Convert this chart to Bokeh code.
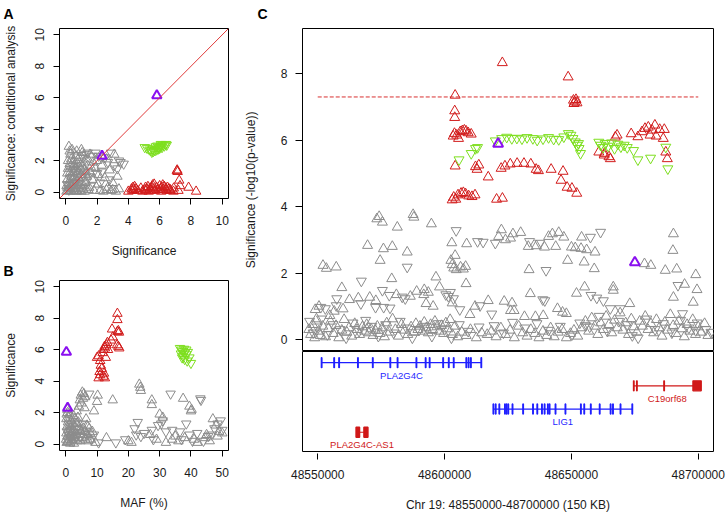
from bokeh.plotting import figure
from bokeh.layouts import row, column
from bokeh.models import Range1d, FixedTicker, BasicTickFormatter, Slope, ColumnDataSource
from bokeh.core.properties import value
from bokeh.embed import file_html
from bokeh.resources import INLINE

# ---------------- data ----------------
a_ticks = [0, 2, 4, 6, 8, 10]
b_xticks = [0, 10, 20, 30, 40, 50]
c_yticks = [0, 2, 4, 6, 8]
c_xticks = [48550000, 48600000, 48650000, 48700000]
region = [48550000, 48700000]
threshold = 7.3

# Panel A: (significance, conditional significance)
a_gray_up = [(0.05,0.05),(0.1,0.3),(0.15,0.1),(0.2,0.6),(0.2,2.9),(0.25,2.6),(0.3,2.4),(0.3,0.2),(0.35,1.0),(0.4,0.4),
             (0.45,1.6),(0.5,0.1),(0.5,2.0),(0.55,0.7),(0.6,1.3),(0.65,2.3),(0.7,0.3),(0.75,1.8),(0.8,0.9),(0.85,2.2),
             (0.9,0.5),(0.95,1.5),(1.0,1.1),(1.05,2.5),(1.1,0.2),(1.15,1.9),(1.2,1.4),(1.25,0.6),(1.3,2.1),(1.35,1.0),
             (1.4,1.7),(1.5,0.3),(1.55,2.4),(1.6,1.2),(1.7,0.8),(1.75,1.9),(1.8,0.1),(1.9,1.5),(2.0,2.0),(2.05,0.5),
             (2.1,1.1),(2.2,0.1),(2.3,1.7),(2.4,0.05),(2.5,0.9),(2.6,2.1),(2.7,0.3),(2.8,1.4),(2.9,0.1),(3.0,0.6),
             (3.1,2.4),(3.2,0.05),(3.3,1.0),(3.4,0.2),(0.1,1.2),(0.15,2.0),(0.3,1.6),(0.6,0.05),(0.9,0.1),(1.2,0.05),
             (1.45,0.15),(2.6,0.15),(3.0,0.15),(1.0,2.7),(0.4,2.7),(0.7,2.6),(0.05,0.4),(0.1,0.8),(0.2,0.3),(0.25,1.2),
             (0.35,0.5),(0.4,0.8),(0.45,0.2),(0.5,0.9),(0.55,0.4),(0.6,1.0),(0.65,0.2),(0.7,0.7),(0.75,1.2),(0.8,0.4),
             (0.85,0.9),(0.95,0.6),(1.05,0.9),(1.15,0.4),(1.25,1.1),(0.3,0.05),(0.7,0.05),(1.0,0.05),
             (0.15,1.5),(0.25,1.8),(0.35,2.1),(0.45,1.3),(0.55,1.7),(0.65,1.5),(0.8,1.4),(1.1,1.6),(1.3,1.3),(1.6,1.6)]
a_gray_dn = [(0.1,0.5),(0.3,0.9),(0.5,1.4),(0.7,2.0),(0.9,1.7),(1.1,2.2),(1.3,2.4),(1.5,1.0),(1.7,2.3),(1.9,2.5),
             (2.1,2.3),(2.3,1.3),(2.5,2.2),(2.7,1.9),(2.9,2.5),(3.1,1.7),(3.3,1.5),(3.5,1.9),(3.7,1.8),(2.8,0.8),
             (2.2,0.6),(1.6,0.4),(1.0,0.3),(0.6,0.6),(3.4,2.0),(0.2,0.15),(2.0,1.2),(1.4,2.5)]
a_red_up = [(4.0,0.05),(4.2,0.2),(4.25,0.1),(4.3,0.3),(4.35,0.15),(4.4,0.35),(4.5,0.2),(4.6,0.1),(4.8,0.25),(4.9,0.05),
            (5.06,0.15),(5.1,0.3),(5.12,0.1),(5.2,0.2),(5.25,0.35),(5.3,0.05),(5.4,0.25),(5.45,0.12),(5.5,0.3),(5.55,0.45),
            (5.6,0.2),(5.65,0.5),(5.7,0.1),(5.8,0.3),(5.9,0.15),(6.0,0.4),(6.05,0.2),(6.1,0.05),(6.15,0.3),(6.2,0.45),
            (6.25,0.15),(6.3,0.35),(6.4,0.25),(6.45,0.1),(6.5,0.3),(6.6,0.2),(6.7,0.1),(6.9,0.25),(7.1,1.35),(7.15,1.3),
            (7.12,1.4),(7.25,0.75),(7.3,0.4),(7.85,0.3),(8.33,0.05),(7.2,0.1),(6.68,0.15),(6.88,0.05)]
a_green_dn = [(5.05,2.85),(5.2,2.8),(5.35,2.7),(5.45,2.65),(5.5,2.55),(5.6,2.6),(5.7,2.65),(5.8,2.7),(5.9,2.75),(5.95,2.85),
              (6.0,2.8),(6.05,2.9),(6.1,2.95),(6.15,2.85),(6.2,3.0),(6.3,2.95),(6.4,3.05),(6.45,3.0),(5.75,2.9),(5.85,2.95),
              (5.55,2.75),(6.08,3.05)]
a_purple_up = [(5.82,6.15),(2.32,2.3)]

# Panel B: (MAF %, significance)
b_gray_up = [(0.3,0.1),(0.5,0.5),(0.8,0.9),(1.0,0.2),(1.2,1.2),(1.5,0.6),(1.8,1.5),(2.0,0.3),(2.2,0.9),(2.5,1.8),
             (2.8,0.4),(3.0,1.1),(3.2,0.7),(3.5,2.1),(3.8,0.2),(4.0,1.4),(4.2,2.4),(4.5,2.8),(4.8,3.1),(5.0,2.6),
             (5.3,3.3),(5.5,2.9),(5.8,3.2),(6.0,2.3),(6.2,3.0),(6.5,1.6),(7.0,0.5),(7.5,1.0),(8.0,0.3),(9.0,2.1),
             (10.0,2.7),(10.2,3.1),(8.5,0.8),(9.5,0.1),(0.2,1.6),(0.6,2.0),(1.0,1.7),(1.4,0.05),(2.6,0.05),(3.6,0.6),
             (4.4,0.9),(5.2,0.4),(6.0,0.8),(6.8,1.2),(13.0,0.4),(15.0,2.8),(20.0,0.2),(21.0,0.1),(23.5,3.8),(23.8,3.6),
             (24.0,3.4),(27.5,2.8),(27.5,2.5),(27.0,0.6),(29.0,0.3),(30.0,1.9),(31.0,1.7),(32.0,0.1),(34.0,0.3),(35.0,0.5),
             (36.0,0.2),(37.5,2.9),(38.0,0.4),(39.5,2.4),(40.0,2.1),(40.2,2.2),(41.0,0.3),(42.0,0.1),(44.5,0.4),(45.0,0.6),
             (46.0,0.2),(47.0,1.6),(48.0,1.2),(49.0,0.8),(50.0,0.7),(48.5,0.5),
             (0.1,0.3),(0.2,0.7),(0.4,1.1),(0.6,0.15),(0.7,1.4),(0.9,0.45),(1.1,0.8),(1.3,1.9),(1.5,1.0),(1.7,0.25),
             (1.9,0.7),(2.1,1.3),(2.3,0.5),(2.7,0.8),(2.9,1.6),(3.1,0.3),(3.3,1.3),(3.7,0.9),(3.9,1.7),(4.1,0.4),
             (4.3,1.1),(4.7,0.2),(4.9,0.8),(5.4,0.6),(5.7,1.0),(6.3,0.3),(6.7,0.6),(7.2,0.2),(7.8,0.7),(0.3,1.9),(0.5,2.2)]
b_gray_dn = [(0.4,0.8),(0.9,1.3),(1.6,0.4),(2.4,0.2),(3.4,1.0),(4.6,0.5),(5.6,1.3),(6.6,0.8),(7.5,3.2),(8.2,0.3),
             (9.0,0.6),(10.5,0.1),(16.0,0.1),(19.0,0.3),(22.0,1.0),(22.5,0.6),(23.0,1.4),(24.0,0.5),(25.0,0.7),(27.5,0.9),
             (28.0,0.3),(29.5,1.2),(30.5,1.3),(31.0,1.5),(32.0,0.8),(33.5,3.2),(34.0,0.9),(36.5,0.8),(37.0,0.3),(38.5,1.3),
             (39.5,0.6),(40.5,0.2),(42.0,0.7),(43.0,2.9),(43.2,2.8),(44.0,0.2),(45.5,0.5),(46.5,0.6),(47.5,1.0),(48.5,1.3),
             (49.5,1.5),(50.0,0.9)]
b_red_up = [(16.5,8.3),(16.5,7.9),(14.8,7.3),(16.8,7.2),(16.5,7.15),(17.0,7.1),(15.0,6.8),(14.5,6.6),(13.3,6.45),(13.0,6.3),
            (12.5,6.1),(12.0,6.0),(16.4,6.3),(16.8,6.2),(17.1,6.1),(12.8,5.5),(10.0,5.5),(10.5,5.6),(11.0,5.3),(11.2,5.0),
            (10.8,4.6),(11.5,4.8),(11.0,4.4),(10.5,4.2),(12.0,4.3),(12.5,4.2),(12.2,4.5),(11.8,5.8),(12.4,6.2),(13.5,6.0)]
b_green_dn = [(36.5,6.1),(37.0,6.0),(37.5,5.9),(38.0,5.8),(38.5,5.7),(39.0,5.85),(39.5,5.5),(38.0,5.4),(37.5,5.6),(40.0,5.15),
              (36.8,5.75),(37.8,6.05),(38.5,6.0),(37.2,5.5),(38.8,5.3)]
b_purple_up = [(0.2,5.85),(0.6,2.3)]

# Panel C: (position, -log10 p)
c_red_up = [(48622770,8.33),(48648700,7.90),(48604170,7.35),(48604000,6.88),(48604000,6.68),
            (48603400,6.12),(48603900,6.20),(48604800,6.15),(48605500,6.05),(48606200,6.25),(48607000,6.28),
            (48607800,6.30),(48608500,6.27),(48609300,6.22),(48610500,6.18),(48604170,5.22),
            (48612200,5.20),(48612800,5.12),(48613500,5.25),(48617200,4.89),
            (48622300,5.15),(48623800,5.22),(48625900,5.28),(48628600,5.30),(48631300,5.30),(48634000,5.28),
            (48636100,5.12),(48637000,5.08),(48642000,5.12),(48646700,5.06),
            (48645900,4.79),(48648300,4.58),(48650200,4.55),(48652100,4.40),
            (48603000,4.20),(48603600,4.28),(48604400,4.22),(48605300,4.35),(48606500,4.40),(48607400,4.42),
            (48608300,4.38),(48609500,4.32),(48610800,4.30),(48612000,4.35),(48620500,4.22),(48622800,4.25),
            (48650800,7.20),(48651300,7.15),(48651800,7.22),(48652200,7.12),(48651000,7.10),
            (48660800,5.64),(48662900,5.55),(48664800,5.50),(48665350,5.44),(48663000,5.60),
            (48667300,6.09),(48668000,6.15),(48673550,6.19),(48676200,6.10),(48677800,6.25),(48679000,6.35),
            (48680300,6.39),(48681000,6.15),(48681800,6.30),(48682900,6.45),(48683400,6.12),(48684800,6.32),
            (48686600,6.32),(48686200,6.05),(48687200,5.64),(48687800,5.44)]
c_green_dn = [(48605700,5.41),(48610500,5.60),(48612200,5.75),(48613000,5.78),
              (48620000,5.98),(48622500,6.05),(48624500,6.09),(48626500,6.05),(48628500,6.06),(48630500,6.04),
              (48632500,6.08),(48634800,6.05),(48636500,6.00),(48638800,6.04),(48641000,6.08),(48643000,6.03),
              (48645000,6.02),(48647000,6.10),(48648800,6.20),(48649800,6.15),(48650600,6.05),(48651500,5.95),
              (48652200,5.85),(48653000,5.75),(48653600,5.60),(48652800,5.90),
              (48660800,5.94),(48661500,5.85),(48662500,5.78),(48663300,5.90),(48664500,5.82),(48665800,5.92),
              (48667000,5.75),(48668300,5.88),(48669500,5.80),(48670800,5.85),(48672000,5.78),(48674500,5.69),
              (48676200,5.41),(48681200,5.46),(48687200,5.79),(48688000,5.14)]
c_purple_up = [(48621100,5.89),(48675000,2.32)]
c_gray_up = [(48552070,2.23),(48553400,2.14),(48557300,2.18),(48559500,1.56),(48569650,2.83),(48573300,3.63),
             (48574220,3.70),(48575500,3.53),(48575900,2.73),(48574600,2.38),(48579400,2.80),(48579170,1.83),
             (48581370,3.38),(48585270,2.63),(48587600,3.76),(48587900,3.68),(48594800,3.48),(48596600,1.88),
             (48602850,2.91),(48608700,2.88),(48604170,2.53),(48602500,2.38),(48603000,2.25),(48603600,2.15),
             (48604600,2.10),(48606300,2.18),(48607400,2.12),(48608300,2.20),(48622400,3.30),(48621300,3.10),
             (48626000,3.05),(48624000,3.00),(48608470,1.68),(48617200,1.17),(48623500,1.15),(48626000,0.87),
             (48570500,1.27),(48572900,1.17),(48592000,1.50),(48593600,1.42),(48591800,1.35),(48592700,1.08),
             (48603000,1.10),(48612000,1.00),(48626950,3.18),(48630000,3.22),(48642500,3.18),(48645000,3.22),
             (48641000,3.10),(48647000,3.08),(48654000,3.08),(48650000,2.78),(48651500,2.76),(48653800,2.74),
             (48656000,2.70),(48659300,2.63),(48633000,2.80),(48636200,2.82),(48639400,2.78),(48643800,2.80),
             (48648500,2.38),(48655000,2.33),(48659000,2.13),(48633300,2.10),(48678800,2.28),(48681300,2.23),
             (48690200,3.18),(48690000,2.68),(48687000,2.08),(48691500,2.12),(48699000,1.95),(48699500,1.50),
             (48690200,1.27),(48698000,1.12),(48694600,1.66),(48655200,1.58),(48652000,1.39),(48633800,1.38),
             (48666500,1.58),(48666500,1.48),(48673000,1.08),(48626600,1.10),(48627400,0.87),(48631500,0.69),
             (48635800,0.69),(48644500,0.93),(48646500,0.82),(48648000,0.78),(48638900,0.72),
             (48562500,1.20),(48566000,1.25),(48581000,1.35),(48586500,1.30),(48589000,1.45),(48595500,1.00),
             (48598000,1.58),(48610000,0.75),(48549000,0.90),(48550500,1.00),(48554800,0.72),(48556500,0.85),(48560000,0.92),
             (48546500,0.30),(48547200,0.15),(48548000,0.45),(48548800,0.05),(48549500,0.62),(48550300,0.25),
             (48551000,0.12),(48552000,0.40),(48553100,0.08),(48554200,0.33),(48555000,0.55),(48556100,0.18),
             (48557200,0.42),(48558300,0.05),(48559500,0.28),(48560400,0.60),(48561500,0.22),(48562300,0.35),
             (48563400,0.10),(48564600,0.48),(48565500,0.30),(48566500,0.15),(48567600,0.38),(48568500,0.25),
             (48569300,0.45),(48570200,0.20),(48571000,0.32),(48571800,0.12),(48572700,0.28),(48573500,0.40),
             (48574500,0.18),(48575400,0.35),(48576300,0.08),(48577200,0.50),(48578300,0.22),(48579500,0.62),
             (48580600,0.30),(48581800,0.10),(48583000,0.45),(48584200,0.28),(48585500,0.15),(48586800,0.38),
             (48587800,0.22),(48588700,0.48),(48589500,0.30),(48590300,0.40),(48591200,0.25),(48592000,0.52),
             (48592800,0.35),(48593600,0.20),(48594500,0.45),(48595300,0.30),(48596200,0.55),(48597000,0.38),
             (48597900,0.25),(48598800,0.42),(48599600,0.18),(48600500,0.50),(48601300,0.32),(48602200,0.60),
             (48603100,0.15),(48604100,0.40),(48605200,0.08),(48606800,0.22),(48608500,0.12),(48610200,0.30),
             (48612500,0.05),(48614600,0.20),(48616800,0.15),
             (48618500,0.25),(48620300,0.08),(48622200,0.35),(48624000,0.15),(48625800,0.28),(48627500,0.05),
             (48629200,0.40),(48630800,0.20),(48632500,0.10),(48634000,0.30),(48635600,0.18),(48637200,0.05),
             (48638800,0.25),(48640300,0.12),(48641800,0.35),(48643200,0.08),(48644800,0.22),(48646300,0.30),
             (48648000,0.05),(48649600,0.18),(48651000,0.28),(48652500,0.10),(48654000,0.35),(48655500,0.55),
             (48656800,0.25),(48658000,0.65),(48659200,0.40),(48660400,0.15),(48661500,0.50),(48662600,0.30),
             (48663700,0.70),(48664800,0.45),(48665900,0.20),(48667000,0.58),(48668100,0.35),(48669200,0.80),
             (48670300,0.28),(48671400,0.50),(48672500,0.15),(48673600,0.62),(48674700,0.38),(48675800,0.22),
             (48676900,0.55),(48678000,0.40),(48679100,0.70),(48680200,0.30),(48681300,0.48),(48682400,0.20),
             (48683500,0.60),(48684600,0.35),(48685700,0.10),(48686800,0.52),(48687900,0.28),(48689000,0.75),
             (48690100,0.42),(48691200,0.18),(48692300,0.55),(48693400,0.32),(48694500,0.08),(48695600,0.45),
             (48696700,0.25),(48697800,0.60),(48698900,0.15),(48700000,0.38),(48701200,0.22),(48702500,0.48),
             (48703800,0.12)]
c_gray_dn = [(48604570,3.28),(48615200,2.93),(48585270,2.18),(48567200,1.76),(48575500,1.48),(48578200,1.33),
             (48557500,1.23),(48551200,0.97),(48553000,0.93),(48557300,1.02),(48567000,1.08),(48572800,0.97),
             (48576000,0.97),(48614000,1.02),(48618600,0.77),(48602300,1.42),(48603500,1.23),(48601500,1.30),
             (48584500,1.23),(48583300,1.28),(48657500,3.08),(48661500,3.23),(48640000,2.08),(48692000,1.63),
             (48638700,1.20),(48639500,1.17),(48657700,1.33),(48660000,1.25),(48662600,1.17),(48665300,0.93),
             (48669200,0.93),(48693800,0.78),(48655500,0.42),(48699000,0.27),(48674000,0.12),(48578500,0.95),
             (48600500,1.35),(48606000,0.90),(48613000,2.95),(48620000,2.90),(48633500,2.95),(48637500,2.90),
             (48546800,0.55),(48548200,0.20),(48549800,0.38),(48551500,0.62),(48553800,0.15),(48556000,0.45),
             (48558800,0.30),(48561200,0.05),(48563900,0.50),(48566300,0.25),(48568900,0.58),(48571300,0.40),
             (48573900,0.10),(48576800,0.45),(48579900,0.20),(48582500,0.55),(48585000,0.35),(48587300,0.05),
             (48589900,0.28),(48592500,0.40),(48595000,0.10),(48597500,0.48),(48600000,0.30),(48602700,0.05),
             (48605800,0.45),(48609300,0.25),(48613600,0.38),(48619500,0.42),(48623200,0.20),(48626800,0.52),
             (48631600,0.35),(48636400,0.48),(48641000,0.28),(48645600,0.40),(48650300,0.15),(48653300,0.50),
             (48657200,0.38),(48660900,0.70),(48664200,0.25),(48668600,0.55),(48672000,0.45),(48676300,0.05),
             (48679700,0.62),(48683000,0.30),(48686200,0.48),(48689600,0.20),(48693000,0.58),(48696300,0.35),
             (48699600,0.50),(48703000,0.30),(48705000,0.22)]

# Gene track
gene_names = ["PLA2G4C", "C19orf68", "LIG1", "PLA2G4C-AS1"]
gene_start = [48551440, 48674480, 48619140, 48565100]
gene_end = [48614570, 48701150, 48674090, 48569800]
gene_track = [4, 3, 2, 1]
gene_color = ["#1f1fff", "#d01818", "#1f1fff", "#d01818"]
gene_exons = [
    [(48551440,48551640),(48556380,48556580),(48558330,48558530),(48565750,48565950),(48571610,48571810),
     (48578510,48578710),(48581380,48581580),(48588800,48589000),(48592450,48592650),(48594020,48594220),
     (48599340,48599540),(48601560,48601760),(48603510,48603710),(48608470,48608670),(48609370,48609570),
     (48610270,48610470),(48614370,48614570)],
    [(48674480,48674680),(48675700,48675900),(48686440,48686640),(48697900,48701150)],
    [(48619140,48619340),(48620050,48620250),(48621480,48621680),(48623700,48623900),(48624330,48624530),
     (48625000,48625200),(48626680,48626880),(48630860,48631060),(48634760,48634960),(48636440,48636640),
     (48638280,48638480),(48639330,48639530),(48640620,48640820),(48641290,48641490),(48643630,48643830),
     (48647540,48647740),(48653630,48653830),(48654950,48655150),(48657540,48657740),(48661050,48661250),
     (48665350,48665550),(48666280,48666480),(48669250,48669450),(48673890,48674090)],
    [(48565100,48566500),(48568200,48569800)],
]

# ---------------- style ----------------
FONT = "Liberation Sans"
TXT = "#1a1a1a"
GRAY = "#8c8c8c"
RED = "#d21c1c"
GREEN = "#7ddf1e"
PURPLE = "#8a10f0"


def style_axis(ax, ticks, tick_in, tick_out, lab_off, title_off, vertical=False):
    ax.ticker = FixedTicker(ticks=ticks)
    ax.axis_line_color = None
    ax.major_tick_line_color = "black"
    ax.major_tick_in = tick_in
    ax.major_tick_out = tick_out
    ax.minor_tick_line_color = None
    ax.major_label_standoff = lab_off
    ax.axis_label_standoff = title_off
    ax.major_label_text_font = FONT
    ax.major_label_text_font_size = "12px"
    ax.major_label_text_color = TXT
    ax.axis_label_text_font = FONT
    ax.axis_label_text_font_size = "12px"
    ax.axis_label_text_font_style = "normal"
    ax.axis_label_text_color = TXT
    if vertical:
        ax.major_label_orientation = "vertical"


def base_fig(letter, w, h, xr, yr, left, right, top, bottom, standoff=0, **kw):
    p = figure(width=w, height=h, x_range=xr, y_range=yr, output_backend="svg",
               toolbar_location=None, min_border_left=left, min_border_right=right,
               min_border_top=top, min_border_bottom=bottom, **kw)
    p.grid.visible = False
    p.outline_line_color = "black"
    p.outline_line_width = 1
    p.background_fill_color = "white"
    p.border_fill_color = "white"
    if letter is not None:
        p.title.text = letter
        p.title.text_font = FONT
        p.title.text_font_size = "14px"
        p.title.text_font_style = "bold"
        p.title.text_color = "black"
        p.title.align = "left"
        p.title.vertical_align = "top"
        p.title.offset = -left + 2
        p.title.standoff = standoff
    return p


def pts(p, data, marker, color, size, lw=1):
    xs = [d[0] for d in data]
    ys = [d[1] for d in data]
    src = ColumnDataSource(dict(x=xs, y=ys))
    p.scatter("x", "y", source=src, marker=marker, size=size, fill_color=None,
              line_color=color, line_width=lw)


# ---- Panel A ----
pA = base_fig("A", 240, 262, Range1d(-0.4, 10.4), Range1d(-0.4, 10.4), 58, 12, 28, 64, standoff=10)
pA.xaxis.axis_label = "Significance"
pA.yaxis.axis_label = "Significance: conditional analysis"
style_axis(pA.xaxis[0], a_ticks, 0, 6, 11, 16)
style_axis(pA.yaxis[0], a_ticks, 0, 6, 9, 15, vertical=True)
pA.add_layout(Slope(gradient=1, y_intercept=0, line_color="#e03a3a", line_width=1))
pts(pA, a_gray_up, "triangle", GRAY, 9.5)
pts(pA, a_gray_dn, "inverted_triangle", GRAY, 9.5)
pts(pA, a_red_up, "triangle", RED, 9.5)
pts(pA, a_green_dn, "inverted_triangle", GREEN, 9.5)
pts(pA, a_purple_up, "triangle", PURPLE, 9.5, 2)

# ---- Panel B ----
pB = base_fig("B", 240, 252, Range1d(-2, 52), Range1d(-0.4, 10.4), 58, 12, 17, 64, standoff=0)
pB.xaxis.axis_label = "MAF (%)"
pB.yaxis.axis_label = "Significance"
style_axis(pB.xaxis[0], b_xticks, 0, 6, 11, 16)
style_axis(pB.yaxis[0], a_ticks, 0, 6, 9, 15, vertical=True)
pts(pB, b_gray_up, "triangle", GRAY, 9.5)
pts(pB, b_gray_dn, "inverted_triangle", GRAY, 9.5)
pts(pB, b_red_up, "triangle", RED, 9.5)
pts(pB, b_green_dn, "inverted_triangle", GREEN, 9.5)
pts(pB, b_purple_up, "triangle", PURPLE, 9.5, 2)

# ---- Panel C (association) ----
xr = Range1d(48544000, 48706000)
pC = base_fig("C", 486, 351, xr, Range1d(-0.36, 9.36), 58, 13, 28, 0, standoff=10, x_axis_location=None)
pC.title.offset = -45
pC.yaxis.axis_label = "Significance (-log10(p-value))"
style_axis(pC.yaxis[0], c_yticks, 0, 7, 8, 20)
pC.segment(x0=[region[0]], x1=[region[1]], y0=[threshold], y1=[threshold],
           line_color="#d83030", line_width=1, line_dash="4 2")
pts(pC, c_gray_up, "triangle", GRAY, 10)
pts(pC, c_gray_dn, "inverted_triangle", GRAY, 10)
pts(pC, c_red_up, "triangle", RED, 10)
pts(pC, c_green_dn, "inverted_triangle", GREEN, 10)
pts(pC, c_purple_up, "triangle", PURPLE, 10, 2)

# ---- Gene track ----
pG = base_fig(None, 486, 163, xr, Range1d(0.17, 4.48), 58, 13, 0, 61, y_axis_location=None, title=None)
pG.xaxis.axis_label = "Chr 19: 48550000-48700000 (150 KB)"
style_axis(pG.xaxis[0], c_xticks, -2, 8, 10, 16)
pG.xaxis.formatter = BasicTickFormatter(use_scientific=False)
pG.segment(x0=gene_start, x1=gene_end, y0=gene_track, y1=gene_track, line_color=gene_color, line_width=1.2)
ex_x, ex_w, ex_y, ex_c = [], [], [], []
for ex_list, t, c in zip(gene_exons, gene_track, gene_color):
    for s, e in ex_list:
        ex_x.append((s + e) / 2)
        ex_w.append(e - s)
        ex_y.append(t)
        ex_c.append(c)
pG.rect(x=ex_x, y=ex_y, width=ex_w, height=10, height_units="screen",
        fill_color=ex_c, line_color=ex_c, line_width=1.4)
pG.text(x=[(s + e) / 2 for s, e in zip(gene_start, gene_end)], y=gene_track, text=gene_names,
        text_color=gene_color, text_align="center", text_baseline="top", y_offset=7,
        text_font=value(FONT), text_font_size=value("9.5px"))

layout = row(column(pA, pB), column(pC, pG))
open("out.html", "w").write(file_html(layout, INLINE))
